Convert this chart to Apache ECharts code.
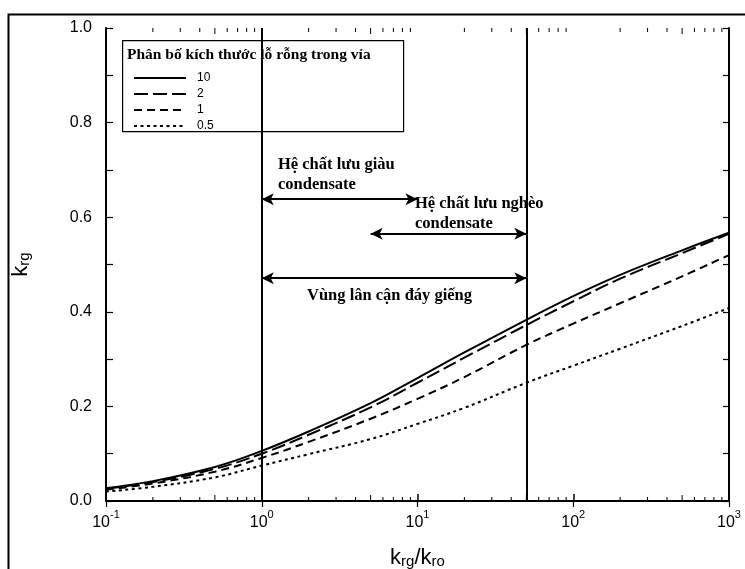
<!DOCTYPE html>
<html>
<head>
<meta charset="utf-8">
<script src="https://cdn.jsdelivr.net/npm/echarts@6/dist/echarts.min.js"></script>
<style>
html, body { margin: 0; padding: 0; background: #fff; }
#chart { width: 745px; height: 569px; }
</style>
</head>
<body>
<div id="chart"></div>
<script>
// krg/kro values where the curves were read
var ratios = [0.1, 0.2, 0.5, 1, 2, 5, 10, 20, 50, 100, 200, 500, 1000];
// krg for each pore size distribution index
var krg10 = [0.027, 0.042, 0.072, 0.106, 0.147, 0.207, 0.260, 0.314, 0.383, 0.433, 0.478, 0.530, 0.567];
var krg2 = [0.026, 0.040, 0.068, 0.100, 0.140, 0.198, 0.250, 0.303, 0.372, 0.422, 0.470, 0.524, 0.565];
var krg1 = [0.024, 0.037, 0.062, 0.091, 0.125, 0.174, 0.216, 0.262, 0.330, 0.375, 0.418, 0.475, 0.520];
var krg05 = [0.020, 0.030, 0.050, 0.075, 0.099, 0.131, 0.163, 0.197, 0.250, 0.286, 0.322, 0.370, 0.408];

var seriesNames = ['10', '2', '1', '0.5'];
var xTicks = [0.1, 1, 10, 100, 1000];
var yTicks = [0, 0.2, 0.4, 0.6, 0.8, 1.0];

// region boundaries and arrow spans
var boundaries = [1, 50];
var richArrow = [1, 10, 0.638];
var leanArrow = [5, 50, 0.565];
var nearArrow = [1, 50, 0.471];

function pairs(ys) {
    return ratios.map(function (x, i) { return [x, ys[i]]; });
}

var dom = document.getElementById('chart');
var myChart = echarts.init(dom);

var minorTicks = [];
for (var e = -1; e < 3; e++) {
    for (var m = 2; m <= 9; m++) {
        minorTicks.push([m * Math.pow(10, e), 0]);
    }
}

var serif = '"Liberation Serif", "DejaVu Serif", serif';
var sans = '"Liberation Sans", Arial, sans-serif';

function lineSeries(name, ys, dash, w) {
    return {
        name: name,
        type: 'line',
        data: pairs(ys),
        smooth: 0.4,
        symbol: 'none',
        lineStyle: { color: '#000', width: w, type: dash },
        itemStyle: { color: '#000' },
        z: 3
    };
}

function arrowLine(a) {
    return [{ coord: [a[0], a[2]] }, { coord: [a[1], a[2]] }];
}

var axisName = {
    k: { fontFamily: sans, fontSize: 22, color: '#000', verticalAlign: 'bottom', lineHeight: 26 },
    s: { fontFamily: sans, fontSize: 15, color: '#000', verticalAlign: 'bottom', lineHeight: 22 }
};

var option = {
    animation: false,
    grid: { left: 106, right: 16, top: 28, bottom: 68, outerBoundsMode: 'none', containLabel: false },
    legend: {
        data: seriesNames,
        orient: 'vertical',
        left: 128,
        top: 67,
        itemWidth: 52,
        itemHeight: 12,
        itemGap: 4,
        textStyle: { fontFamily: sans, fontSize: 12, color: '#000', padding: [0, 0, 0, 6] },
        itemStyle: { color: 'rgba(0,0,0,0)', borderWidth: 0, opacity: 0 },
        inactiveColor: '#000'
    },
    xAxis: [{
        type: 'log',
        logBase: 10,
        min: 0.1,
        max: 1000,
        position: 'bottom',
        name: '{k|k}{s|rg}{k|/k}{s|ro}',
        nameLocation: 'middle',
        nameGap: 42,
        nameTextStyle: { rich: axisName },
        axisLine: { show: true, lineStyle: { color: '#000', width: 2 } },
        axisTick: { inside: true, length: 7, lineStyle: { color: '#000', width: 1.5 } },
        splitLine: { show: false },
        axisLabel: {
            margin: 8,
            formatter: function (v) {
                return '{b|10}{p|' + Math.round(Math.log10(v)) + '}';
            },
            rich: {
                b: { fontFamily: sans, fontSize: 16, color: '#000', lineHeight: 22, verticalAlign: 'bottom' },
                p: { fontFamily: sans, fontSize: 11, color: '#000', lineHeight: 12, verticalAlign: 'top' }
            }
        }
    }, {
        type: 'log',
        logBase: 10,
        min: 0.1,
        max: 1000,
        position: 'top',
        axisLine: { show: true, lineStyle: { color: '#000', width: 2 } },
        axisTick: { inside: true, length: 6, lineStyle: { color: '#000', width: 1.2 } },
        axisLabel: { show: false },
        splitLine: { show: false }
    }],
    yAxis: [{
        type: 'value',
        min: yTicks[0],
        max: yTicks[yTicks.length - 1],
        interval: 0.2,
        name: '{k|k}{s|rg}',
        nameLocation: 'middle',
        nameGap: 74,
        nameRotate: 90,
        nameTextStyle: { rich: axisName },
        axisLine: { show: true, lineStyle: { color: '#000', width: 2 } },
        axisTick: { inside: true, length: 7, lineStyle: { color: '#000', width: 1.2 } },
        minorTick: { show: true, splitNumber: 2, length: 7, lineStyle: { color: '#000', width: 1.2 } },
        splitLine: { show: false },
        axisLabel: {
            margin: 14,
            fontFamily: sans,
            fontSize: 16,
            color: '#000',
            formatter: function (v) { return v.toFixed(1); }
        }
    }, {
        type: 'value',
        min: 0,
        max: 1,
        interval: 0.1,
        position: 'right',
        axisLine: { show: true, lineStyle: { color: '#000', width: 2 } },
        axisTick: { inside: true, length: 6, lineStyle: { color: '#000', width: 1.2 } },
        axisLabel: { show: false },
        splitLine: { show: false }
    }],
    series: [
        lineSeries(seriesNames[0], krg10, 'solid', 2),
        lineSeries(seriesNames[1], krg2, [14, 5], 2),
        lineSeries(seriesNames[2], krg1, [8, 5], 2),
        lineSeries(seriesNames[3], krg05, [3, 3.5], 2),
        {
            name: 'annotations',
            type: 'line',
            data: [],
            symbol: 'none',
            markLine: {
                silent: true,
                symbol: ['none', 'none'],
                label: { show: false },
                lineStyle: { color: '#000', width: 2, type: 'solid' },
                data: boundaries.map(function (b) { return { xAxis: b }; })
            }
        },
        {
            name: 'arrows',
            type: 'line',
            data: [],
            symbol: 'none',
            markLine: {
                silent: true,
                symbol: ['arrow', 'arrow'],
                symbolSize: [9, 12],
                label: { show: false },
                lineStyle: { color: '#000', width: 2, type: 'solid' },
                itemStyle: { color: '#000' },
                data: [arrowLine(richArrow), arrowLine(leanArrow), arrowLine(nearArrow)]
            }
        },
        {
            name: 'minorTicks',
            type: 'custom',
            data: minorTicks,
            silent: true,
            renderItem: function (params, api) {
                var v = api.value(0);
                var p = api.coord([v, 0]);
                var top = params.coordSys.y;
                var bottom = params.coordSys.y + params.coordSys.height;
                var mant = Math.round(v / Math.pow(10, Math.floor(Math.log10(v) + 1e-9)));
                var len = mant === 5 ? 6 : 4;
                return {
                    type: 'group',
                    children: [
                        { type: 'line', shape: { x1: p[0], y1: bottom, x2: p[0], y2: bottom - len }, style: { stroke: '#000', lineWidth: 1 } },
                        { type: 'line', shape: { x1: p[0], y1: top, x2: p[0], y2: top + len }, style: { stroke: '#000', lineWidth: 1 } }
                    ]
                };
            }
        }
    ],
    graphic: [
        { type: 'rect', left: 6, top: 12, shape: { width: 760, height: 600 }, style: { fill: 'none', stroke: '#000', lineWidth: 2 }, silent: true },
        { type: 'rect', left: 122, top: 40, shape: { width: 281, height: 91 }, style: { fill: '#fff', stroke: '#000', lineWidth: 1.2 }, z: 4 },
        { type: 'text', left: 127, top: 47, style: { text: 'Phân bố kích thước lỗ rỗng trong vỉa', font: 'bold 15.5px ' + serif, fill: '#000' }, z: 5 },
        { type: 'text', left: 278, top: 155, style: { text: 'Hệ chất lưu giàu\ncondensate', font: 'bold 16.5px ' + serif, fill: '#000', lineHeight: 20 }, z: 5 },
        { type: 'text', left: 415, top: 194, style: { text: 'Hệ chất lưu nghèo\ncondensate', font: 'bold 16.5px ' + serif, fill: '#000', lineHeight: 20 }, z: 5 },
        { type: 'text', left: 307, top: 287, style: { text: 'Vùng lân cận đáy giếng', font: 'bold 16.5px ' + serif, fill: '#000' }, z: 5 }
    ]
};

myChart.setOption(option);
</script>
</body>
</html>
